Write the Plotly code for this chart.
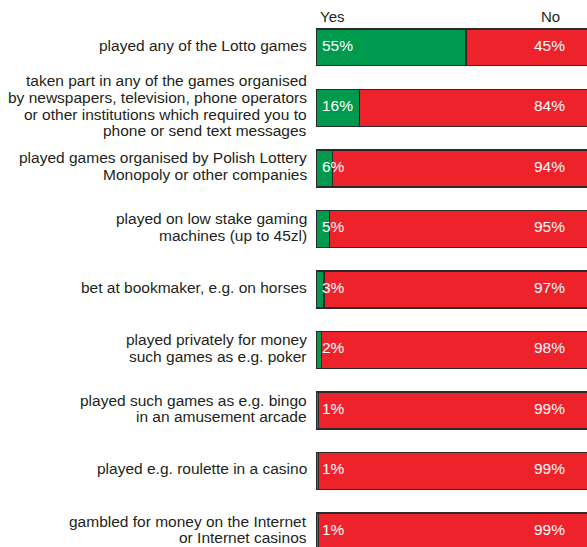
import plotly.graph_objects as go

# Survey answers: share of respondents who did / did not do each activity
categories = [
    ["played any of the Lotto games"],
    ["taken part in any of the games organised",
     "by newspapers, television, phone operators",
     "or other institutions which required you to",
     "phone or send text messages"],
    ["played games organised by Polish Lottery", "Monopoly or other companies"],
    ["played on low stake gaming", "machines (up to 45zl)"],
    ["bet at bookmaker, e.g. on horses"],
    ["played privately for money", "such games as e.g. poker"],
    ["played such games as e.g. bingo", "in an amusement arcade"],
    ["played e.g. roulette in a casino"],
    ["gambled for money on the Internet", "or Internet casinos"],
]
yes_values = [55, 16, 6, 5, 3, 2, 1, 1, 1]
no_values = [45, 84, 94, 95, 97, 98, 99, 99, 99]
series_names = ["Yes", "No"]

GREEN = "#009a4e"
RED = "#ee222b"
EDGE = "#2a2a2a"
TEXT = "#231f20"
FONT = "Liberation Sans, Arial, sans-serif"
FS = 15.5
LINE_H = 16.7

keys = [" ".join(c) for c in categories]

fig = go.Figure()
fig.add_trace(go.Bar(
    y=keys, x=yes_values, orientation="h", name=series_names[0],
    marker=dict(color=GREEN, line=dict(color=EDGE, width=1.5)),
    width=0.61, showlegend=False, hoverinfo="skip",
))
fig.add_trace(go.Bar(
    y=keys, x=no_values, orientation="h", name=series_names[1],
    marker=dict(color=RED, line=dict(color=EDGE, width=1.5)),
    width=0.61, showlegend=False, hoverinfo="skip",
))

annotations = []
# category labels, one annotation per line for tight line spacing
for key, lines in zip(keys, categories):
    n = len(lines)
    for i, line in enumerate(lines):
        offset = ((n - 1) / 2 - i) * LINE_H + 2
        annotations.append(dict(
            x=0, y=key, xref="x", yref="y", text=line, showarrow=False,
            xanchor="right", yanchor="middle", xshift=-7, yshift=offset,
            font=dict(family=FONT, size=FS, color=TEXT),
        ))

# value labels inside the bars
for key, yv, nv in zip(keys, yes_values, no_values):
    annotations.append(dict(
        x=0, y=key, xref="x", yref="y", text=f"{yv}%", showarrow=False,
        xanchor="left", yanchor="middle", xshift=4, yshift=2,
        font=dict(family=FONT, size=FS, color="white"),
    ))
    annotations.append(dict(
        x=1, y=key, xref="paper", yref="y", text=f"{nv}%", showarrow=False,
        xanchor="right", yanchor="middle", xshift=-20, yshift=2,
        font=dict(family=FONT, size=FS, color="white"),
    ))

# column headers
annotations.append(dict(
    x=0, y=1, xref="x", yref="paper", text=series_names[0], showarrow=False,
    xanchor="left", yanchor="middle", xshift=2, yshift=1,
    font=dict(family=FONT, size=15, color=TEXT),
))
annotations.append(dict(
    x=86, y=1, xref="x", yref="paper", text=series_names[1], showarrow=False,
    xanchor="center", yanchor="middle", yshift=1,
    font=dict(family=FONT, size=15, color=TEXT),
))

fig.update_layout(
    width=587, height=547,
    margin=dict(l=316, r=0, t=17, b=0),
    barmode="stack", bargap=0.39,
    paper_bgcolor="white", plot_bgcolor="white",
    xaxis=dict(range=[0, 99.3], visible=False, fixedrange=True),
    yaxis=dict(type="category", categoryorder="array", categoryarray=keys,
               range=[8.256, -0.5], visible=False, fixedrange=True),
    annotations=annotations,
)

fig.write_html("out.html")
